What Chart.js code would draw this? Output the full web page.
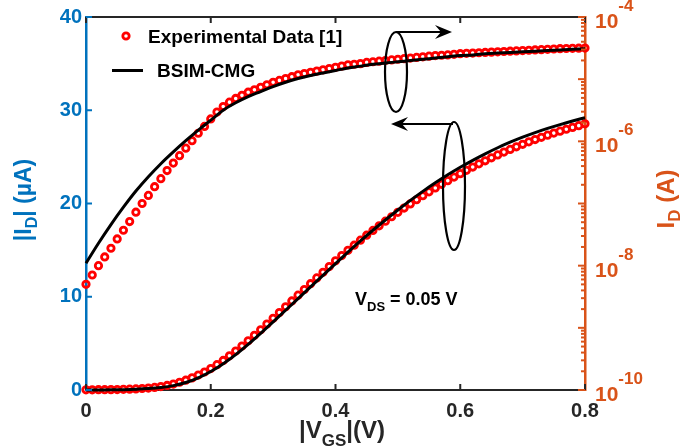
<!DOCTYPE html>
<html>
<head>
<meta charset="utf-8">
<script src="https://cdn.jsdelivr.net/npm/chart.js@4"></script>
<style>
  body { margin: 0; background: #fff; }
  canvas { display: block; }
</style>
</head>
<body>
<canvas id="chart" width="683" height="446"></canvas>
<script>
// |VGS| (V) of the measured points
const vgsExp = [
  0.00, 0.01, 0.02, 0.03, 0.04, 0.05, 0.06, 0.07, 0.08, 0.09,
  0.10, 0.11, 0.12, 0.13, 0.14, 0.15, 0.16, 0.17, 0.18, 0.19,
  0.20, 0.21, 0.22, 0.23, 0.24, 0.25, 0.26, 0.27, 0.28, 0.29,
  0.30, 0.31, 0.32, 0.33, 0.34, 0.35, 0.36, 0.37, 0.38, 0.39,
  0.40, 0.41, 0.42, 0.43, 0.44, 0.45, 0.46, 0.47, 0.48, 0.49,
  0.50, 0.51, 0.52, 0.53, 0.54, 0.55, 0.56, 0.57, 0.58, 0.59,
  0.60, 0.61, 0.62, 0.63, 0.64, 0.65, 0.66, 0.67, 0.68, 0.69,
  0.70, 0.71, 0.72, 0.73, 0.74, 0.75, 0.76, 0.77, 0.78, 0.79, 0.80
];
// |ID| in uA, measured (left axis)
const idLinExp = [
  0.02, 0.02, 0.03, 0.03, 0.04, 0.05, 0.07, 0.09, 0.12, 0.16,
  0.21, 0.28, 0.37, 0.49, 0.64, 0.83, 1.05, 1.30, 1.60, 1.93,
  2.30, 2.72, 3.17, 3.66, 4.18, 4.72, 5.28, 5.86, 6.46, 7.07,
  7.69, 8.31, 8.93, 9.55, 10.17, 10.78, 11.40, 12.02, 12.63, 13.24,
  13.85, 14.42, 14.98, 15.53, 16.07, 16.60, 17.11, 17.61, 18.10, 18.58,
  19.05, 19.51, 19.96, 20.40, 20.83, 21.25, 21.66, 22.06, 22.45, 22.83,
  23.20, 23.56, 23.91, 24.25, 24.58, 24.90, 25.21, 25.51, 25.80, 26.08,
  26.35, 26.61, 26.86, 27.10, 27.33, 27.55, 27.76, 27.96, 28.16, 28.35, 28.54
];
// log10(ID / A), measured (right axis)
const idLogExp = [
  -8.30, -8.15, -8.00, -7.86, -7.72, -7.57, -7.43, -7.29, -7.14, -7.00,
  -6.87, -6.73, -6.60, -6.47, -6.35, -6.23, -6.11, -5.99, -5.87, -5.76,
  -5.64, -5.53, -5.44, -5.37, -5.31, -5.26, -5.21, -5.17, -5.13, -5.09,
  -5.05, -5.02, -4.99, -4.96, -4.93, -4.91, -4.89, -4.87, -4.85, -4.83,
  -4.81, -4.79, -4.77, -4.76, -4.75, -4.73, -4.72, -4.71, -4.70, -4.69,
  -4.68, -4.67, -4.66, -4.65, -4.64, -4.63, -4.62, -4.615, -4.61, -4.60,
  -4.59, -4.585, -4.58, -4.575, -4.57, -4.565, -4.56, -4.555, -4.55, -4.545,
  -4.54, -4.535, -4.53, -4.525, -4.52, -4.515, -4.51, -4.507, -4.504, -4.502, -4.50
];

// BSIM-CMG model curves
const vgsModel = [
  0.00, 0.02, 0.04, 0.06, 0.08, 0.10, 0.12, 0.14, 0.16, 0.18,
  0.20, 0.22, 0.24, 0.26, 0.28, 0.30, 0.32, 0.34, 0.36, 0.38,
  0.40, 0.42, 0.44, 0.46, 0.48, 0.50, 0.52, 0.54, 0.56, 0.58,
  0.60, 0.62, 0.64, 0.66, 0.68, 0.70, 0.72, 0.74, 0.76, 0.78, 0.80
];
const idLinModel = [
  0.00, 0.01, 0.02, 0.04, 0.08, 0.15, 0.27, 0.47, 0.80, 1.30,
  1.98, 2.82, 3.80, 4.90, 6.08, 7.30, 8.55, 9.80, 11.05, 12.30,
  13.55, 14.78, 15.98, 17.13, 18.23, 19.30, 20.33, 21.30, 22.22, 23.08,
  23.88, 24.63, 25.33, 25.98, 26.57, 27.11, 27.60, 28.05, 28.46, 28.84, 29.20
];
const idLogModel = [
  -7.96, -7.64, -7.34, -7.06, -6.80, -6.57, -6.36, -6.17, -5.99, -5.82,
  -5.66, -5.50, -5.38, -5.28, -5.20, -5.12, -5.05, -4.99, -4.94, -4.90,
  -4.86, -4.82, -4.79, -4.76, -4.74, -4.72, -4.70, -4.68, -4.66, -4.64,
  -4.62, -4.61, -4.59, -4.58, -4.57, -4.56, -4.55, -4.54, -4.53, -4.52, -4.51
];

const xTicks = [0, 0.2, 0.4, 0.6, 0.8];
const yLeftTicks = [0, 10, 20, 30, 40];
const rightDecades = [-10, -8, -6, -4];

const FONT = '"Liberation Sans", Arial, Helvetica, sans-serif';
const BLUE = '#0072BD';
const ORANGE = '#D95319';
const DARK = '#262626';

const toPts = (xs, ys) => xs.map((x, i) => ({x: x, y: ys[i]}));
const toAmps = ys => ys.map(v => Math.pow(10, v));

function richWidth(c, parts) {
  let w = 0;
  parts.forEach(p => {
    c.font = 'bold ' + p[1] + 'px ' + FONT;
    w += c.measureText(p[0]).width;
  });
  return w;
}
function richText(c, parts, x, y) {
  let cx = x;
  parts.forEach(p => {
    c.font = 'bold ' + p[1] + 'px ' + FONT;
    c.fillText(p[0], cx, y + p[2]);
    cx += c.measureText(p[0]).width;
  });
}
function arrow(c, x0, y0, x1, y1) {
  const a = Math.atan2(y1 - y0, x1 - x0);
  c.beginPath();
  c.moveTo(x0, y0);
  c.lineTo(x1 - 10 * Math.cos(a), y1 - 10 * Math.sin(a));
  c.stroke();
  c.save();
  c.translate(x1, y1);
  c.rotate(a);
  c.beginPath();
  c.moveTo(0, 0);
  c.lineTo(-17, -7);
  c.lineTo(-11, 0);
  c.lineTo(-17, 7);
  c.closePath();
  c.fill();
  c.restore();
}

const decorations = {
  id: 'decorations',
  afterDraw(chart) {
    const c = chart.ctx;
    const a = chart.chartArea;
    const sx = chart.scales.x, sy = chart.scales.y, sr = chart.scales.y1;
    c.save();
    c.textAlign = 'left';
    c.textBaseline = 'alphabetic';

    // top box line
    c.strokeStyle = DARK;
    c.lineWidth = 2;
    c.beginPath();
    c.moveTo(a.left, a.top);
    c.lineTo(a.right, a.top);
    c.stroke();

    // inward ticks on x (bottom and top)
    xTicks.forEach(v => {
      const px = sx.getPixelForValue(v);
      c.beginPath();
      c.moveTo(px, a.bottom); c.lineTo(px, a.bottom - 6);
      c.moveTo(px, a.top); c.lineTo(px, a.top + 6);
      c.stroke();
    });
    // left ticks
    c.strokeStyle = BLUE;
    yLeftTicks.forEach(v => {
      const py = sy.getPixelForValue(v);
      c.beginPath();
      c.moveTo(a.left, py); c.lineTo(a.left + 6, py);
      c.stroke();
    });
    // right log ticks
    c.strokeStyle = ORANGE;
    for (let n = -10; n <= -4; n++) {
      for (let k = 1; k <= (n === -4 ? 1 : 9); k++) {
        const py = sr.getPixelForValue(k * Math.pow(10, n));
        c.beginPath();
        c.moveTo(a.right, py); c.lineTo(a.right - (k === 1 ? 7 : 4), py);
        c.stroke();
      }
    }
    // right tick labels 10^n
    c.fillStyle = ORANGE;
    rightDecades.forEach(n => {
      const py = sr.getPixelForValue(Math.pow(10, n));
      c.font = 'bold 21px ' + FONT;
      c.fillText('10', a.right + 10, py + 11);
      const w = c.measureText('10').width;
      c.font = 'bold 17px ' + FONT;
      c.fillText(String(n), a.right + 10 + w, py - 6);
    });

    // right title I_D (A)
    let parts = [['I', 24, 0], ['D', 17, 6], [' (A)', 24, 0]];
    c.save();
    c.translate(674, 199);
    c.rotate(-Math.PI / 2);
    richText(c, parts, -richWidth(c, parts) / 2, 0);
    c.restore();

    // left title |I_D| (uA)
    c.fillStyle = BLUE;
    parts = [['|I', 23, 0], ['D', 16, 6], ['| (\u00b5A)', 23, 0]];
    c.save();
    c.translate(31, 200);
    c.rotate(-Math.PI / 2);
    richText(c, parts, -richWidth(c, parts) / 2, 0);
    c.restore();

    // x title |V_GS|(V)
    c.fillStyle = DARK;
    richText(c, [['|V', 24, 0], ['GS', 17, 8], ['|(V)', 24, 0]], 299, 438);

    // legend
    c.strokeStyle = '#ff0000';
    c.lineWidth = 2.8;
    c.beginPath();
    c.arc(126, 36, 3.2, 0, Math.PI * 2);
    c.stroke();
    c.strokeStyle = '#000';
    c.lineWidth = 3;
    c.beginPath();
    c.moveTo(112, 70.5); c.lineTo(143, 70.5);
    c.stroke();
    c.fillStyle = '#000';
    c.font = 'bold 19px ' + FONT;
    c.fillText('Experimental Data [1]', 148, 43);
    c.fillText('BSIM-CMG', 157, 77);

    // V_DS = 0.05 V
    richText(c, [['V', 18, 0], ['DS', 13, 6], [' = 0.05 V', 18, 0]], 355, 305);

    // ellipses + arrows
    c.strokeStyle = '#000';
    c.lineWidth = 2.2;
    c.beginPath();
    c.ellipse(396, 72, 11, 40, 0, 0, Math.PI * 2);
    c.stroke();
    c.beginPath();
    c.ellipse(454, 186, 11, 64, 0, 0, Math.PI * 2);
    c.stroke();
    arrow(c, 396, 32, 452, 32);
    arrow(c, 453, 124, 391, 124);

    c.restore();
  }
};

const expStyle = {
  showLine: false,
  pointStyle: 'circle',
  pointRadius: 3.2,
  pointBorderWidth: 2.8,
  pointBorderColor: '#ff0000',
  pointBackgroundColor: 'rgba(0,0,0,0)',
  order: 2,
  clip: false
};
const modelStyle = {
  borderColor: '#000',
  borderWidth: 3,
  pointRadius: 0,
  cubicInterpolationMode: 'monotone',
  order: 1,
  clip: false
};

new Chart(document.getElementById('chart'), {
  type: 'line',
  data: {
    datasets: [
      Object.assign({ label: 'BSIM-CMG', data: toPts(vgsModel, idLinModel), yAxisID: 'y' }, modelStyle),
      Object.assign({ label: 'BSIM-CMG log', data: toPts(vgsModel, toAmps(idLogModel)), yAxisID: 'y1' }, modelStyle),
      Object.assign({ label: 'Experimental Data [1]', data: toPts(vgsExp, idLinExp), yAxisID: 'y' }, expStyle),
      Object.assign({ label: 'Experimental log', data: toPts(vgsExp, toAmps(idLogExp)), yAxisID: 'y1' }, expStyle)
    ]
  },
  options: {
    responsive: false,
    animation: false,
    layout: { padding: { top: 17, left: 0, right: 0, bottom: 0 } },
    plugins: {
      legend: { display: false },
      tooltip: { enabled: false }
    },
    scales: {
      x: {
        type: 'linear',
        min: 0,
        max: 0.8,
        afterBuildTicks: s => { s.ticks = xTicks.map(v => ({value: v})); },
        afterFit: s => { s.height = 56; },
        ticks: {
          color: DARK,
          font: { family: FONT, size: 20, weight: 'bold' },
          padding: 9,
          maxRotation: 0,
          callback: v => String(v)
        },
        grid: { display: false, drawTicks: false },
        border: { color: DARK, width: 2 }
      },
      y: {
        position: 'left',
        min: 0,
        max: 40,
        afterBuildTicks: s => { s.ticks = yLeftTicks.map(v => ({value: v})); },
        afterFit: s => { s.width = 86; },
        ticks: {
          color: BLUE,
          font: { family: FONT, size: 20, weight: 'bold' },
          padding: 4
        },
        grid: { display: false, drawTicks: false },
        border: { color: BLUE, width: 2.5 }
      },
      y1: {
        type: 'logarithmic',
        position: 'right',
        min: 1e-10,
        max: 1e-4,
        afterFit: s => { s.width = 98; },
        ticks: { display: false },
        grid: { display: false, drawTicks: false },
        border: { color: ORANGE, width: 2.5 }
      }
    }
  },
  plugins: [decorations]
});
</script>
</body>
</html>
